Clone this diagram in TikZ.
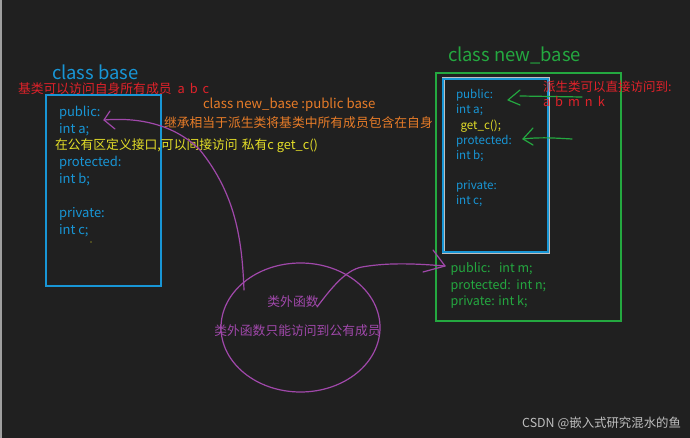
\documentclass[tikz,border=0pt]{standalone}
\usepackage{fontspec}
\setmainfont{Noto Sans CJK SC}
\usetikzlibrary{arrows.meta,shapes.geometric}
\definecolor{bg}{RGB}{32,32,32}
\definecolor{cblue}{RGB}{24,150,214}
\definecolor{cred}{RGB}{224,34,42}
\definecolor{cyellow}{RGB}{228,222,40}
\definecolor{corange}{RGB}{232,124,40}
\definecolor{cpurple}{RGB}{160,72,170}
\definecolor{cgreen}{RGB}{36,168,64}
\definecolor{cwater}{RGB}{190,190,190}
\newcommand{\gp}[1]{\hspace{#1pt}}
\begin{document}
\begin{tikzpicture}[x=1pt,y=-1pt,
  every node/.style={inner sep=0pt, outer sep=0pt},
  txt/.style={anchor=base west, font=\fontsize{13}{15}\selectfont},
  stxt/.style={anchor=base west, font=\fontsize{11.6}{13}\selectfont},
  cjk/.style={anchor=base west, font=\fontsize{12.8}{14}\selectfont},
  title/.style={anchor=base west, font=\fontsize{18.4}{21}\selectfont},
  pen/.style={line width=1.2pt, line cap=round, line join=round}]
\useasboundingbox (0,0) rectangle (690,438);
\fill[bg] (0,0) rectangle (690,438);
\fill[gray!75] (0,0) rectangle (2,438);

% ---- base class ----
\node[title, text=cblue] (tbase) at (52,79.3) {class base};
\node[cjk, text=cred] (rbase) at (18,93.5) {基类可以访问自身所有成员\gp{6}a\gp{5}b\gp{5}c};
\node[draw=cblue, line width=1.3pt, anchor=north west, minimum width=115pt, minimum height=191pt] (basebox) at (46,95) {};
\node[txt, text=cblue] (bpub) at (59,117) {public:};
\node[txt, text=cblue] (bia) at (59,133.5) {int a;};
\node[txt, text=cblue] (bprot) at (59,167) {protected:};
\node[txt, text=cblue] (bib) at (59,184) {int b;};
\node[txt, text=cblue] (bpriv) at (59,218) {private:};
\node[txt, text=cblue] (bic) at (59,234.5) {int c;};
\fill[cyellow] (91,242) circle (0.7);
\node[cjk, text=cyellow] (yint) at (55,149.5) {在公有区定义接口,可以间接访问\gp{4}私有c\gp{3}get\_c()};

% ---- inheritance text ----
\node[anchor=base west, text=corange, font=\fontsize{13.2}{15}\selectfont] (oinh) at (203,108.3) {class new\_base :public base};
\node[cjk, text=corange] (oinh2) at (164,127.3) {继承相当于派生类将基类中所有成员包含在自身};

% ---- derived class ----
\node[title, text=cgreen] (tnew) at (448,61.7) {class new\_base};
\node[draw=cgreen, line width=1.2pt, anchor=north west, minimum width=185pt, minimum height=248pt] (newbox) at (436,73) {};
\draw[gray!50, line width=3pt] (443,79) rectangle (548,252);
\node[draw=cblue, line width=1.3pt, anchor=north west, minimum width=105pt, minimum height=173pt] (innerbox) at (443,79) {};
\node[stxt, text=cblue] (npub) at (456,98.3) {public:};
\node[stxt, text=cblue] (nia) at (456,113.3) {int a;};
\node[stxt, text=cyellow] (ngetc) at (460.5,130) {get\_c();};
\node[stxt, text=cblue] (nprot) at (456,144.3) {protected:};
\node[stxt, text=cblue] (nib) at (456,159.3) {int b;};
\node[stxt, text=cblue] (npriv) at (456,190) {private:};
\node[stxt, text=cblue] (nic) at (456,205) {int c;};
\node[txt, text=cgreen, font=\fontsize{12.5}{14}\selectfont] (gm) at (450.7,272.3) {public:\ \ \ int m;};
\node[txt, text=cgreen, font=\fontsize{12.5}{14}\selectfont] (gn) at (450.7,289.3) {protected:\ \ int n;};
\node[txt, text=cgreen, font=\fontsize{12.5}{14}\selectfont] (gk) at (450.7,305.7) {private: int k;};

% green arrows
\coordinate (ga1s) at (582,97);
\coordinate (ga1e) at (520,96);
\coordinate (ga1t) at (508,100);
\draw[cgreen, pen] (ga1s) -- (ga1e);
\draw[cgreen, pen] (ga1t) ++(12,-10) -- (ga1t) -- ++(12,5);
\coordinate (ga2s) at (572,139);
\coordinate (ga2t) at (523,139);
\draw[cgreen, pen] (ga2s) .. controls (555,138) and (540,137) .. (ga2t);
\draw[cgreen, pen] (ga2t) ++(10,-11) -- (ga2t) -- ++(10,6);

\node[cjk, text=cred, font=\fontsize{12.5}{14}\selectfont] (rder) at (543,91.7) {派生类可以直接访问到:};
\node[cjk, text=cred, font=\fontsize{12.8}{14}\selectfont] (rder2) at (543,106.7) {a\gp{5}b\gp{5}m\gp{5}n\gp{5}k};

% ---- outside function ----
\node[draw=cpurple, line width=1.2pt, ellipse, minimum width=159pt, minimum height=129pt] (fun) at (300.5,327.5) {};
\node[text=cpurple, font=\fontsize{12.8}{14}\selectfont] (funt) at (293,302) {类外函数};
\node[text=cpurple, font=\fontsize{12.8}{14}\selectfont] (funt2) at (297.5,330.5) {类外函数只能访问到公有成员};

\coordinate (p1s) at (244,290);
\coordinate (p1t) at (104,120);
\draw[cpurple, pen] (p1s) .. controls (242,240) and (236,195) .. (200,150) .. controls (175,125) and (140,117) .. (p1t);
\draw[cpurple, pen] (p1t) ++(6,-9) -- (p1t) -- ++(11,9);

\coordinate (p2s) at (317,307);
\coordinate (p2t) at (445,266);
\draw[cpurple, pen] (p2s) .. controls (330,290) and (345,270) .. (362,267) .. controls (390,262) and (420,264) .. (p2t);
\draw[cpurple, pen] (p2t) ++(-12,-16) -- (p2t) -- ++(-22,6);

% watermark
\node[anchor=east, text=cwater, font=\fontsize{12.4}{14}\selectfont] (wm) at (681,423) {CSDN\gp{3}@嵌入式研究混水的鱼};
\end{tikzpicture}
\end{document}
